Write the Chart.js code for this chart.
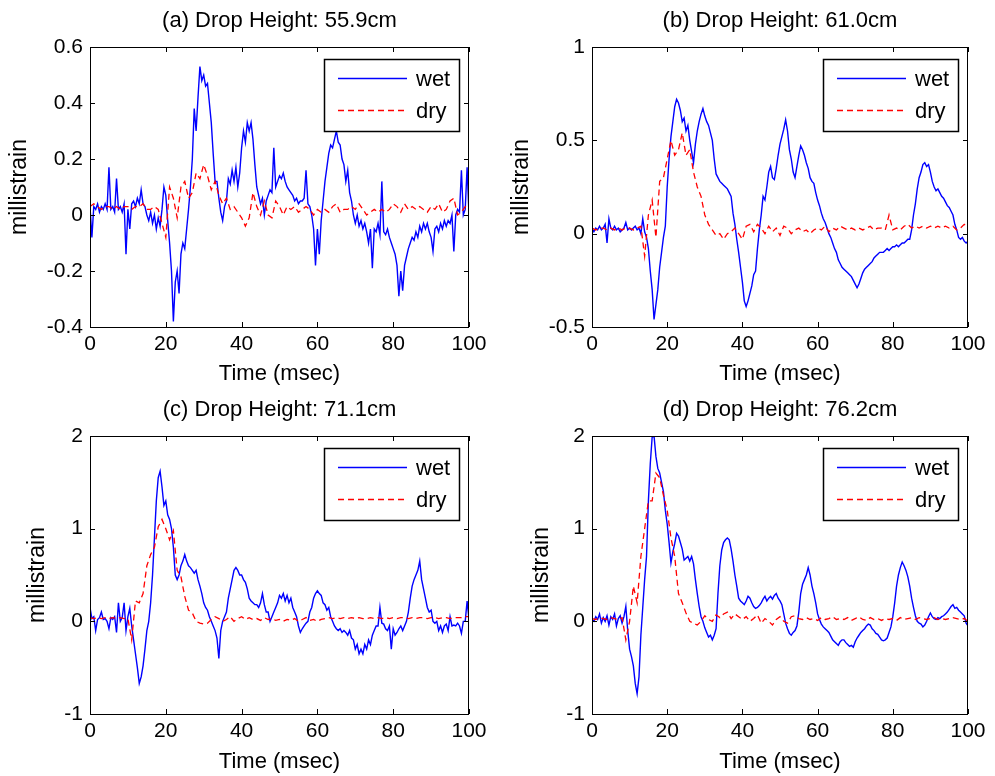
<!DOCTYPE html>
<html>
<head>
<meta charset="utf-8">
<script src="https://cdn.jsdelivr.net/npm/chart.js@4.4.1/dist/chart.umd.min.js"></script>
<style>
  html, body { margin: 0; padding: 0; background: #fff; }
  #wrap { position: relative; width: 995px; height: 776px; background: #fff; }
  canvas { position: absolute; }
</style>
</head>
<body>
<div id="wrap">
  <canvas id="cA" width="497" height="388" style="left:0;top:0"></canvas>
  <canvas id="cB" width="498" height="388" style="left:497px;top:0"></canvas>
  <canvas id="cC" width="497" height="388" style="left:0;top:388px"></canvas>
  <canvas id="cD" width="498" height="388" style="left:497px;top:388px"></canvas>
</div>
<script>
// sampling: wet every 0.5 msec, dry every 1 msec (0..100)
const wetStep = 0.5;
const dryStep = 1;
const seriesNames = ['wet', 'dry'];
const xLabel = 'Time (msec)';
const yLabel = 'millistrain';
const xTicks = [0, 20, 40, 60, 80, 100];

const panelTitles = [
  '(a) Drop Height: 55.9cm',
  '(b) Drop Height: 61.0cm',
  '(c) Drop Height: 71.1cm',
  '(d) Drop Height: 76.2cm'
];

const yTicksA = [-0.4, -0.2, 0, 0.2, 0.4, 0.6];
const yTicksB = [-0.5, 0, 0.5, 1];
const yTicksC = [-1, 0, 1, 2];
const yTicksD = [-1, 0, 1, 2];

const wetA = [
  0.03,-0.08,0.03,0.02,0.04,0.01,0.03,0.02,0.04,0.02,0.17,0.02,0.03,0.01,0.13,0.02,0.03,0.01,0.04,-0.14,
  0.02,-0.05,0.04,0.05,0.03,0.06,0.04,0.09,0.04,0.03,0.0,-0.02,0.01,-0.03,0.0,-0.05,-0.01,-0.04,0.02,0.1,
  0.07,-0.02,-0.1,-0.2,-0.38,-0.24,-0.2,-0.28,-0.14,-0.1,-0.12,-0.05,0.02,0.1,0.2,0.38,0.3,0.42,0.53,0.48,
  0.5,0.46,0.47,0.4,0.33,0.22,0.12,0.12,0.06,0.01,-0.02,0.03,0.05,0.13,0.11,0.16,0.12,0.17,0.1,0.15,
  0.24,0.3,0.26,0.33,0.3,0.33,0.27,0.18,0.1,0.07,0.04,0.06,0.0,0.05,0.07,0.09,0.08,0.24,0.1,0.12,
  0.14,0.13,0.15,0.12,0.1,0.09,0.08,0.07,0.05,0.06,0.04,0.05,0.05,0.06,0.16,0.04,0.03,0.0,-0.05,-0.18,
  -0.05,-0.14,-0.02,0.05,0.12,0.17,0.22,0.25,0.24,0.27,0.3,0.26,0.25,0.2,0.18,0.12,0.16,0.08,0.05,0.0,
  -0.03,0.0,-0.04,-0.02,-0.05,-0.03,-0.06,-0.1,-0.05,-0.19,-0.05,-0.06,-0.03,-0.07,0.12,-0.06,-0.07,-0.05,-0.08,-0.1,
  -0.12,-0.14,-0.18,-0.29,-0.2,-0.27,-0.18,-0.15,-0.12,-0.1,-0.08,-0.09,-0.06,-0.08,-0.04,-0.06,-0.03,-0.05,-0.03,-0.06,
  -0.08,-0.13,-0.05,-0.04,-0.06,-0.03,-0.05,-0.02,-0.04,-0.02,-0.03,0.0,-0.13,0.0,0.02,0.01,0.16,0.0,0.02,0.17,
  0.0
];
const dryA = [
  0.03,0.04,0.03,0.02,0.03,0.03,0.02,0.03,0.02,0.03,
  0.03,0.02,0.03,0.03,0.04,0.02,0.02,0.03,0.02,-0.03,
  -0.08,0.1,0.06,-0.01,0.1,0.12,0.06,0.08,0.15,0.13,
  0.18,0.14,0.09,0.12,0.07,0.04,0.06,0.02,0.03,0.01,
  -0.01,-0.04,-0.01,0.08,0.03,0.0,0.05,0.0,-0.01,0.05,
  0.03,0.0,0.03,0.02,0.03,0.01,0.02,0.03,0.02,0.0,
  0.02,0.01,0.02,0.01,0.03,0.04,0.01,0.02,0.02,0.03,
  0.02,0.04,0.02,0.0,0.01,0.02,0.01,0.02,0.01,0.02,
  0.04,0.03,0.01,0.04,0.02,0.03,0.02,0.03,0.02,0.01,
  0.03,0.02,0.04,0.01,0.02,0.05,0.06,0.0,0.01,0.03,
  0.03
];

const wetB = [
  0.03,0.01,0.03,0.02,0.04,0.02,0.03,0.05,-0.05,0.08,0.03,0.02,0.04,0.02,0.03,0.01,0.02,0.03,0.06,0.02,
  0.03,0.02,0.03,0.04,0.02,0.03,0.0,0.08,0.01,-0.02,-0.08,-0.2,-0.3,-0.46,-0.38,-0.3,-0.18,-0.1,-0.02,0.04,
  0.25,0.4,0.52,0.6,0.68,0.72,0.7,0.66,0.6,0.62,0.55,0.58,0.5,0.44,0.38,0.48,0.55,0.6,0.64,0.67,
  0.63,0.6,0.58,0.54,0.5,0.4,0.32,0.3,0.28,0.27,0.26,0.25,0.24,0.22,0.2,0.11,0.05,-0.03,-0.1,-0.18,
  -0.26,-0.36,-0.39,-0.36,-0.32,-0.28,-0.22,-0.2,-0.08,0.02,0.1,0.2,0.18,0.25,0.33,0.36,0.3,0.29,0.35,0.42,
  0.48,0.52,0.56,0.61,0.55,0.45,0.4,0.33,0.3,0.36,0.42,0.47,0.45,0.42,0.38,0.35,0.3,0.28,0.27,0.22,
  0.18,0.15,0.11,0.08,0.06,0.03,0.0,-0.02,-0.05,-0.08,-0.1,-0.14,-0.16,-0.18,-0.19,-0.2,-0.21,-0.22,-0.23,-0.25,
  -0.27,-0.29,-0.27,-0.24,-0.21,-0.19,-0.18,-0.17,-0.16,-0.15,-0.13,-0.12,-0.11,-0.1,-0.1,-0.1,-0.09,-0.08,-0.09,-0.08,
  -0.07,-0.07,-0.06,-0.07,-0.06,-0.05,-0.05,-0.04,-0.03,-0.03,0.02,0.1,0.16,0.24,0.3,0.33,0.37,0.38,0.36,0.37,
  0.33,0.28,0.25,0.23,0.24,0.22,0.2,0.19,0.17,0.15,0.14,0.12,0.1,0.05,0.02,-0.02,-0.03,-0.02,-0.04,-0.05,
  -0.04
];
const dryB = [
  0.03,0.02,0.03,0.03,0.02,0.03,0.02,0.03,0.02,0.03,
  0.03,0.02,0.03,0.04,-0.12,0.1,0.18,-0.02,0.28,0.3,
  0.4,0.5,0.42,0.45,0.54,0.42,0.45,0.33,0.25,0.2,
  0.1,0.05,0.02,-0.01,0.0,-0.03,0.0,0.01,0.03,0.0,
  -0.03,0.04,0.05,0.01,0.05,0.03,0.0,0.04,0.01,0.03,
  -0.01,0.04,0.03,0.0,0.02,0.03,0.01,0.02,0.0,0.02,
  0.03,0.02,0.04,0.01,0.03,0.02,0.04,0.03,0.02,0.03,
  0.02,0.03,0.02,0.03,0.04,0.02,0.03,0.03,0.02,0.1,
  0.02,0.03,0.02,0.04,0.05,0.03,0.04,0.03,0.04,0.03,
  0.04,0.03,0.04,0.03,0.04,0.03,0.04,0.02,0.03,0.05,
  0.03
];

const wetC = [
  0.15,0.03,0.05,-0.1,0.02,0.04,0.1,0.02,0.03,0.0,-0.08,0.04,0.02,0.05,-0.12,0.2,0.0,0.04,0.2,-0.1,
  0.05,0.14,-0.05,-0.2,-0.35,-0.5,-0.67,-0.6,-0.48,-0.3,-0.1,0.0,0.2,0.5,0.9,1.3,1.55,1.62,1.45,1.25,
  1.3,1.15,1.1,1.0,0.8,0.5,0.45,0.5,0.6,0.65,0.72,0.65,0.6,0.58,0.55,0.52,0.55,0.45,0.38,0.3,
  0.2,0.15,0.12,0.05,0.0,-0.05,-0.1,-0.18,-0.4,-0.1,0.0,0.05,0.1,0.25,0.35,0.45,0.55,0.58,0.55,0.5,
  0.5,0.45,0.42,0.35,0.25,0.22,0.2,0.18,0.18,0.15,0.2,0.3,0.18,0.1,0.1,0.0,0.05,0.1,0.15,0.2,
  0.28,0.25,0.3,0.22,0.28,0.2,0.25,0.15,0.1,0.05,-0.05,-0.12,-0.08,-0.05,-0.02,0.0,0.1,0.15,0.25,0.3,
  0.33,0.3,0.28,0.2,0.18,0.12,0.15,0.05,0.0,-0.05,-0.08,-0.1,-0.08,-0.12,-0.1,-0.12,-0.15,-0.1,-0.18,-0.2,
  -0.3,-0.25,-0.35,-0.3,-0.35,-0.25,-0.3,-0.2,-0.25,-0.15,-0.1,-0.05,-0.05,0.15,-0.02,-0.03,-0.08,-0.1,-0.05,-0.3,
  -0.08,-0.15,-0.12,-0.08,-0.05,-0.1,-0.05,0.0,0.1,0.25,0.38,0.45,0.5,0.55,0.65,0.45,0.35,0.25,0.15,0.1,
  0.12,0.0,-0.02,0.0,-0.1,-0.05,-0.12,-0.05,-0.03,-0.1,0.05,-0.05,-0.04,-0.05,-0.02,-0.05,-0.13,0.0,0.0,0.22,
  0.02
];
const dryC = [
  0.04,0.03,0.04,0.03,0.04,0.03,0.04,0.03,0.04,0.03,
  0.03,-0.2,0.22,0.2,0.3,0.6,0.72,0.8,1.02,1.1,
  1.0,0.88,0.98,0.55,0.48,0.27,0.12,0.09,0.0,-0.02,
  -0.03,-0.02,0.02,0.05,0.03,0.0,0.02,0.05,0.0,0.03,
  0.05,0.02,0.04,0.02,0.03,0.01,0.04,0.02,0.03,0.01,
  0.02,0.0,0.02,0.01,0.03,0.0,0.02,0.04,0.01,0.02,
  0.0,0.02,0.03,0.04,0.03,0.04,0.03,0.04,0.03,0.04,
  0.03,0.04,0.03,0.03,0.04,0.03,0.04,0.03,0.04,0.03,
  0.04,0.03,0.04,0.04,0.03,0.04,0.03,0.04,0.04,0.03,
  0.04,0.04,0.03,0.04,0.04,0.03,0.04,0.04,0.04,0.05,
  0.05
];

const wetD = [
  0.02,0.0,0.05,0.02,0.08,-0.02,0.04,0.0,0.06,-0.04,0.05,0.02,0.08,-0.05,0.03,0.06,-0.02,0.05,0.16,-0.1,
  -0.3,-0.38,-0.48,-0.67,-0.78,-0.6,-0.15,0.15,0.45,0.7,1.3,1.7,1.99,2.0,1.78,1.65,1.6,1.5,1.4,1.2,
  1.05,0.85,0.63,0.75,0.84,0.95,0.92,0.85,0.78,0.66,0.68,0.7,0.65,0.7,0.62,0.45,0.3,0.16,0.05,0.0,
  -0.07,-0.12,-0.17,-0.15,-0.2,-0.15,-0.08,0.3,0.6,0.77,0.85,0.88,0.9,0.88,0.78,0.65,0.5,0.38,0.25,0.22,
  0.2,0.18,0.22,0.27,0.25,0.2,0.16,0.14,0.15,0.17,0.2,0.24,0.27,0.22,0.25,0.27,0.24,0.28,0.3,0.25,
  0.22,0.18,0.08,-0.02,-0.08,-0.13,-0.15,-0.12,-0.1,-0.05,0.1,0.3,0.4,0.45,0.5,0.58,0.5,0.38,0.3,0.2,
  0.08,0.02,-0.03,-0.06,-0.08,-0.1,-0.12,-0.16,-0.2,-0.22,-0.24,-0.26,-0.22,-0.2,-0.2,-0.23,-0.25,-0.27,-0.26,-0.28,
  -0.22,-0.18,-0.15,-0.12,-0.1,-0.08,-0.05,-0.03,-0.04,-0.08,-0.1,-0.13,-0.14,-0.17,-0.2,-0.21,-0.2,-0.18,-0.12,-0.06,
  0.05,0.2,0.38,0.5,0.58,0.64,0.6,0.55,0.48,0.38,0.25,0.15,0.06,0.0,-0.02,-0.03,-0.06,-0.04,0.0,0.05,
  0.09,0.05,0.03,0.02,0.04,0.03,0.05,0.06,0.08,0.1,0.13,0.16,0.18,0.14,0.15,0.12,0.1,0.08,0.06,-0.02,
  -0.05
];
const dryD = [
  0.03,0.02,0.04,0.03,0.02,0.04,0.03,0.02,0.04,-0.2,
  0.0,0.38,0.2,0.7,1.0,1.3,1.3,1.6,1.55,1.36,
  1.2,0.9,0.7,0.3,0.2,0.09,0.0,-0.02,-0.04,0.0,
  0.06,0.02,0.0,0.07,0.04,0.08,0.1,0.03,0.08,0.05,
  0.02,0.05,0.0,0.03,0.07,-0.02,0.03,0.0,-0.04,0.02,
  0.05,0.0,-0.02,0.05,0.06,0.03,0.02,0.04,0.02,0.03,
  0.01,0.04,0.02,0.03,0.05,0.02,0.03,0.02,0.04,0.01,
  0.03,0.05,0.02,0.01,0.04,0.02,0.03,0.01,0.03,0.02,
  0.03,0.01,0.04,0.02,0.03,0.04,0.02,0.04,0.03,0.02,
  0.03,0.04,0.02,0.03,0.02,0.03,0.04,0.03,0.02,0.03,
  0.0
];

const seriesColors = ['#0000ff', '#ff0000'];
const seriesDash = [[], [6, 4]];
const fontFamily = '"Liberation Sans", Arial, Helvetica, sans-serif';

Chart.defaults.font.family = fontFamily;
Chart.defaults.font.size = 21;
Chart.defaults.color = '#000';

// MATLAB style box: inward ticks on all sides, title, legend box
const matlabAxes = {
  id: 'matlabAxes',
  afterDatasetsDraw(chart, args, opts) {
    const { ctx, chartArea: a, scales: { x, y } } = chart;
    ctx.save();
    ctx.strokeStyle = '#000';
    ctx.lineWidth = 1;
    ctx.setLineDash([]);
    ctx.beginPath();
    x.ticks.forEach(t => {
      const px = Math.round(x.getPixelForValue(t.value)) + 0.5;
      ctx.moveTo(px, a.bottom); ctx.lineTo(px, a.bottom - 5);
      ctx.moveTo(px, a.top); ctx.lineTo(px, a.top + 5);
    });
    y.ticks.forEach(t => {
      const py = Math.round(y.getPixelForValue(t.value)) + 0.5;
      ctx.moveTo(a.left, py); ctx.lineTo(a.left + 5, py);
      ctx.moveTo(a.right, py); ctx.lineTo(a.right - 5, py);
    });
    ctx.stroke();
    ctx.strokeRect(a.left + 0.5, a.top + 0.5, a.right - a.left - 1, a.bottom - a.top);

    // legend
    const bw = 135, bh = 72;
    const bx = Math.round(a.right - 10 - bw), by = Math.round(a.top + 12);
    ctx.fillStyle = '#fff';
    ctx.fillRect(bx, by, bw, bh);
    ctx.lineWidth = 1.5;
    ctx.strokeStyle = '#000';
    ctx.strokeRect(bx + 0.5, by + 0.5, bw, bh);
    const rows = [19, 51];
    const textBase = [27, 59];
    ctx.font = '22px ' + fontFamily;
    seriesNames.forEach((name, i) => {
      ctx.save();
      ctx.beginPath();
      ctx.strokeStyle = seriesColors[i];
      ctx.lineWidth = 1.3;
      ctx.setLineDash(seriesDash[i]);
      ctx.moveTo(bx + 14, by + rows[i] + 0.5);
      ctx.lineTo(bx + 83, by + rows[i] + 0.5);
      ctx.stroke();
      ctx.restore();
      ctx.fillStyle = '#000';
      ctx.textAlign = 'left';
      ctx.textBaseline = 'alphabetic';
      ctx.fillText(name, bx + 92, by + textBase[i]);
    });

    // title
    ctx.font = '22px ' + fontFamily;
    ctx.fillStyle = '#000';
    ctx.textAlign = 'center';
    ctx.textBaseline = 'alphabetic';
    ctx.fillText(opts.title, (a.left + a.right) / 2, a.top - 20);
    ctx.restore();
  }
};

function makeChart(id, p) {
  const toPts = (vals, step) => vals.map((v, i) => ({ x: i * step, y: v }));
  return new Chart(document.getElementById(id), {
    type: 'line',
    data: {
      datasets: [
        { label: seriesNames[0], data: toPts(p.wet, wetStep), borderColor: seriesColors[0],
          borderWidth: 1.4, pointRadius: 0, tension: 0, order: 1 },
        { label: seriesNames[1], data: toPts(p.dry, dryStep), borderColor: seriesColors[1],
          borderWidth: 1.3, borderDash: seriesDash[1], pointRadius: 0, tension: 0, order: 0 }
      ]
    },
    options: {
      responsive: false,
      animation: false,
      events: [],
      layout: { padding: { top: p.top, right: p.right, left: 0, bottom: 0 } },
      plugins: {
        legend: { display: false },
        tooltip: { enabled: false },
        matlabAxes: { title: p.title }
      },
      scales: {
        x: {
          type: 'linear', min: 0, max: 100,
          afterBuildTicks: s => { s.ticks = xTicks.map(v => ({ value: v })); },
          afterFit: s => { s.height = p.xh; },
          ticks: { padding: 5, autoSkip: false, maxRotation: 0, callback: v => String(v) },
          grid: { display: false, drawTicks: false },
          border: { display: false },
          title: { display: true, text: xLabel, font: { size: 22 }, padding: { top: 0, bottom: 1 } }
        },
        y: {
          type: 'linear', min: p.yTicks[0], max: p.yTicks[p.yTicks.length - 1],
          afterBuildTicks: s => { s.ticks = p.yTicks.map(v => ({ value: v })); },
          afterFit: s => { s.width = p.yw; },
          ticks: { padding: 7, autoSkip: false, callback: v => String(v) },
          grid: { display: false, drawTicks: false },
          border: { display: false },
          title: { display: true, text: yLabel, font: { size: 23 }, padding: { top: p.ytp, bottom: 0 } }
        }
      }
    },
    plugins: [matlabAxes]
  });
}

makeChart('cA', { wet: wetA, dry: dryA, yTicks: yTicksA, title: panelTitles[0], top: 47, right: 28, xh: 61, yw: 90, ytp: 6.2 });
makeChart('cB', { wet: wetB, dry: dryB, yTicks: yTicksB, title: panelTitles[1], top: 47, right: 27, xh: 61, yw: 95, ytp: 11.2 });
makeChart('cC', { wet: wetC, dry: dryC, yTicks: yTicksC, title: panelTitles[2], top: 48, right: 28, xh: 62, yw: 90, ytp: 24.2 });
makeChart('cD', { wet: wetD, dry: dryD, yTicks: yTicksD, title: panelTitles[3], top: 48, right: 27, xh: 62, yw: 95, ytp: 31.2 });
</script>
</body>
</html>
